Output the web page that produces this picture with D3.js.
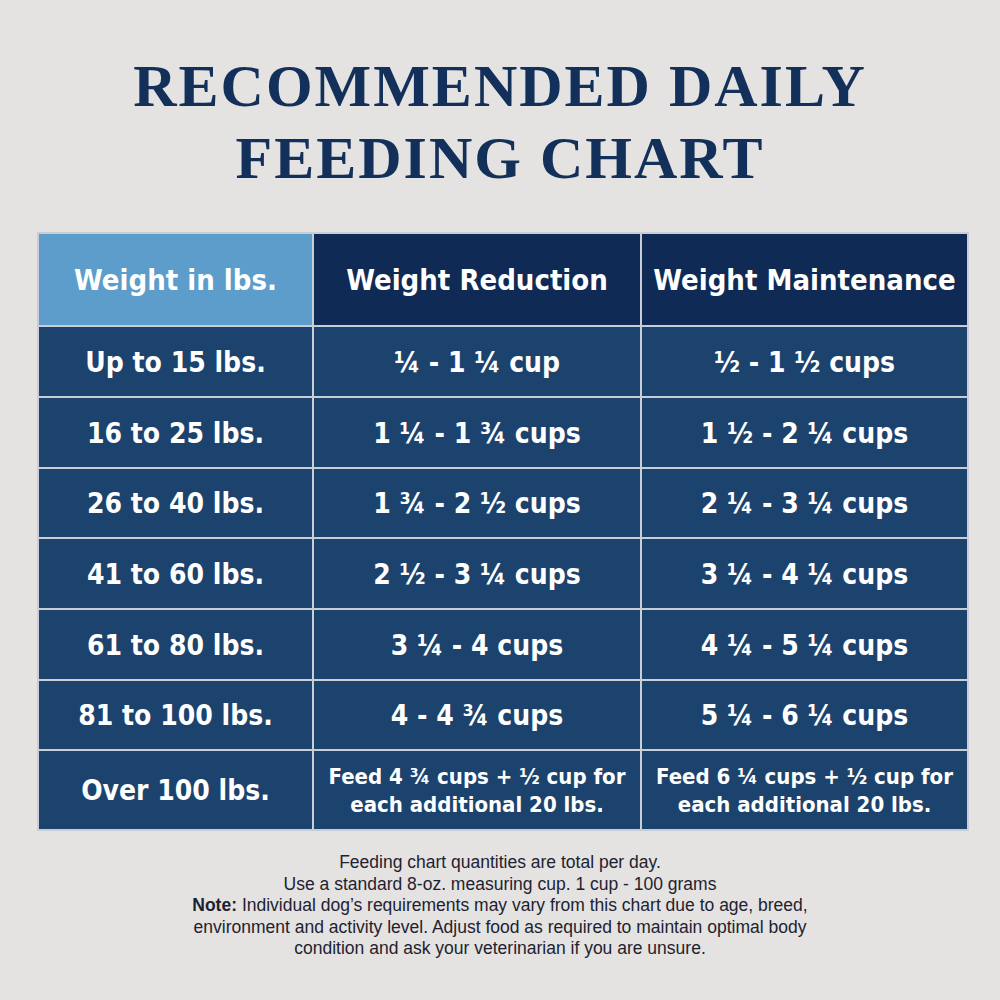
<!DOCTYPE html><html><head><meta charset="utf-8">
<script src="https://cdn.jsdelivr.net/npm/d3@7"></script>
<style>body{margin:0;background:#e3e2e0}</style></head><body>
<svg id="c" width="1000" height="1000"></svg>
<script>
const titleLines=["RECOMMENDED DAILY","FEEDING CHART"];
const headers=["Weight in lbs.","Weight Reduction","Weight Maintenance"];
const weights=["Up to 15 lbs.","16 to 25 lbs.","26 to 40 lbs.","41 to 60 lbs.","61 to 80 lbs.","81 to 100 lbs.","Over 100 lbs."];
const reduction=["¼ - 1 ¼ cup","1 ¼ - 1 ¾ cups","1 ¾ - 2 ½ cups","2 ½ - 3 ¼ cups","3 ¼ - 4 cups","4 - 4 ¾ cups","Feed 4 ¾ cups + ½ cup for|each additional 20 lbs."];
const maintenance=["½ - 1 ½ cups","1 ½ - 2 ¼ cups","2 ¼ - 3 ¼ cups","3 ¼ - 4 ¼ cups","4 ¼ - 5 ¼ cups","5 ¼ - 6 ¼ cups","Feed 6 ¼ cups + ½ cup for|each additional 20 lbs."];
const notes=[["","Feeding chart quantities are total per day."],["","Use a standard 8-oz. measuring cup. 1 cup - 100 grams"],["Note:"," Individual dog’s requirements may vary from this chart due to age, breed,"],["","environment and activity level. Adjust food as required to maintain optimal body"],["","condition and ask your veterinarian if you are unsure."]];

const svg=d3.select("#c");
svg.append("rect").attr("width",1000).attr("height",1000).attr("fill","#e4e3e1");
svg.selectAll(".t").data(titleLines).join("text").attr("x",500).attr("y",(d,i)=>106+i*72)
 .attr("text-anchor","middle").attr("font-family","Liberation Serif").attr("font-weight","bold")
 .attr("font-size",60).attr("fill","#12305a").attr("letter-spacing",2).text(d=>d);

const x=d3.scaleOrdinal().domain([0,1,2]).range([38,313,641]);
const w=[275,328,327];
const rowEdges=[233,326,397,468,538,609,680,750,830];
const rows=[headers].concat(weights.map((d,i)=>[d,reduction[i],maintenance[i]]));
const g=svg.append("g");
rows.forEach((r,ri)=>{
 const y0=rowEdges[ri],h=rowEdges[ri+1]-y0;
 r.forEach((txt,ci)=>{
  const fill=ri===0?(ci===0?"#5d9dcb":"#0f2b55"):"#1c436e";
  g.append("rect").attr("x",x(ci)).attr("y",y0).attr("width",w[ci]).attr("height",h)
   .attr("fill",fill).attr("stroke","#c9ced6").attr("stroke-width",2);
  const lines=txt.split("|");
  const fs=lines.length>1?22:(ri===0?29:28);
  const lh=28;
  lines.forEach((l,li)=>{
   g.append("text").attr("x",x(ci)+w[ci]/2).attr("y",y0+h/2+(li-(lines.length-1)/2)*lh)
    .attr("dy","0.36em").attr("text-anchor","middle").attr("font-family","DejaVu Sans Condensed, DejaVu Sans")
    .attr("font-weight","bold").attr("font-size",fs).attr("fill","#fff").text(l);
  });
 });
});
const ft=svg.selectAll(".n").data(notes).join("text").attr("x",500).attr("y",(d,i)=>868+i*21.5)
 .attr("text-anchor","middle").attr("font-family","Liberation Sans").attr("font-size",17.5).attr("fill","#1e2230");
ft.append("tspan").attr("font-weight","bold").text(d=>d[0]);
ft.append("tspan").text(d=>d[1]);
</script></body></html>
